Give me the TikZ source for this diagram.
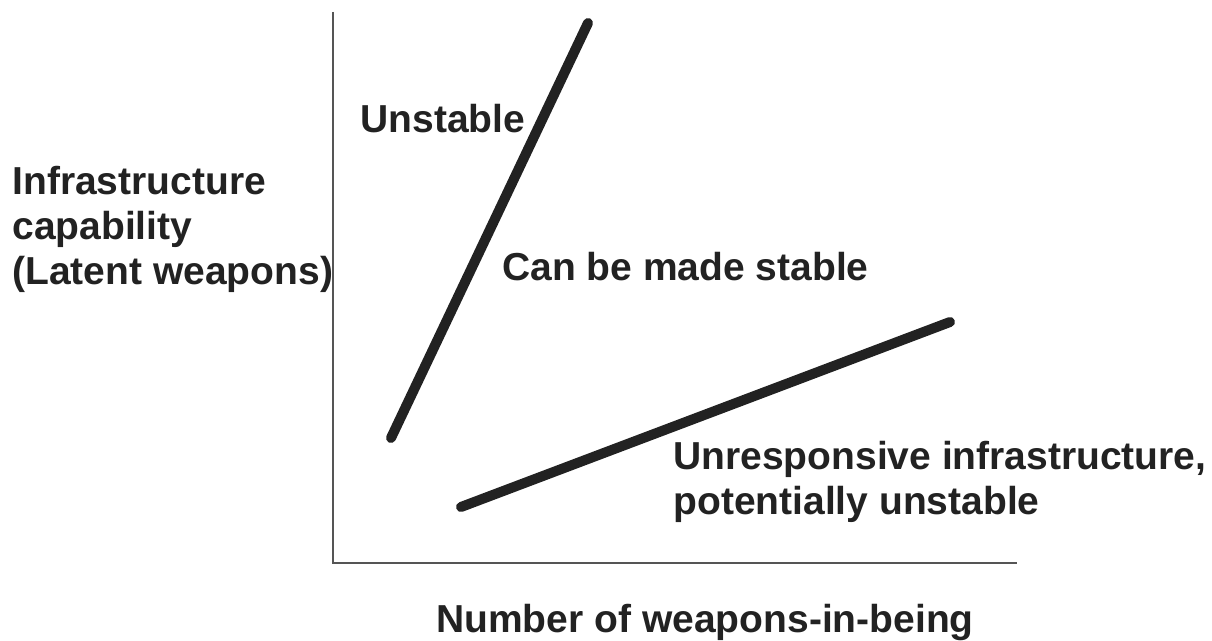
\documentclass[tikz,border=0pt]{standalone}
\usepackage{fontspec}
\setmainfont{Liberation Sans}
\definecolor{inkGray}{RGB}{34, 34, 34}
\definecolor{axisGray}{RGB}{85, 85, 85}
\usepackage{tikz}
\usetikzlibrary{positioning}

\begin{document}
\begin{tikzpicture}[x=0.5pt, y=-0.5pt,
  lbl/.style={inner sep=0pt, text=inkGray, anchor=base west,
              font=\fontsize{19.5}{22.5}\selectfont\bfseries},
  axis/.style={draw=axisGray, line width=1pt},
  curve/.style={draw=inkGray, line width=5pt, line cap=round},
]
  \useasboundingbox (0,0) rectangle (1212,641);

  % Axes
  \coordinate (top) at (333,12);
  \coordinate (origin) at (333,563);
  \coordinate (right) at (1017,563);
  \draw[axis] (top) -- (origin) -- (right);

  % Stability lines
  \coordinate (s1) at (391,438);
  \coordinate (s2) at (588,23);
  \coordinate (u1) at (461,507);
  \coordinate (u2) at (950,322);
  \draw[curve] (s1) -- (s2);
  \draw[curve] (u1) -- (u2);

  % Labels (base = last line)
  \node[lbl] (unst) at (360,133) {Unstable};
  \node[lbl, align=left] (ylab) at (12,285)
    {Infrastructure\\capability\\(Latent weapons)};
  \node[lbl] (made) at (502,281) {Can be made stable};
  \node[lbl, align=left] (unresp) at (673,515)
    {Unresponsive infrastructure,\\potentially unstable};
  \node[lbl, anchor=base] (xlab) at (705,633) {Number of weapons-in-being};
\end{tikzpicture}
\end{document}
